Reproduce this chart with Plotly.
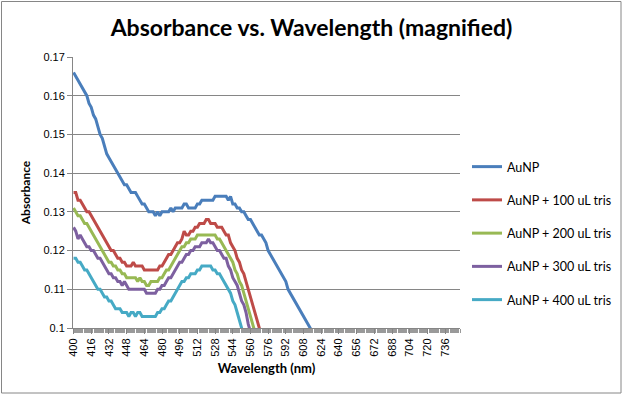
import plotly.graph_objects as go

# Wavelength grid (nm), 2 nm steps
wavelengths = list(range(400, 620, 2))

aunp = [0.166, 0.165, 0.164, 0.163, 0.162, 0.161, 0.160, 0.158, 0.157, 0.155,
        0.154, 0.152, 0.150, 0.149, 0.147, 0.145, 0.144, 0.143, 0.142, 0.141,
        0.140, 0.139, 0.138, 0.137, 0.137, 0.136, 0.135, 0.135, 0.135, 0.134,
        0.133, 0.132, 0.132, 0.131, 0.130, 0.130, 0.130, 0.129, 0.130, 0.129,
        0.130, 0.130, 0.130, 0.130, 0.131, 0.130, 0.131, 0.131, 0.131, 0.131,
        0.132, 0.132, 0.131, 0.131, 0.131, 0.131, 0.132, 0.132, 0.133, 0.133,
        0.133, 0.133, 0.133, 0.133, 0.134, 0.134, 0.134, 0.134, 0.134, 0.134,
        0.133, 0.134, 0.132, 0.132, 0.131, 0.131, 0.130, 0.130, 0.129, 0.128,
        0.128, 0.127, 0.126, 0.125, 0.124, 0.124, 0.123, 0.122, 0.120, 0.119,
        0.118, 0.117, 0.116, 0.115, 0.114, 0.113, 0.112, 0.110, 0.109, 0.108,
        0.107, 0.106, 0.105, 0.104, 0.103, 0.102, 0.101, 0.100, 0.099, 0.098]

tris100 = [0.135, 0.135, 0.133, 0.133, 0.132, 0.131, 0.130, 0.130, 0.129, 0.128,
           0.127, 0.126, 0.125, 0.124, 0.123, 0.122, 0.121, 0.120, 0.120, 0.119,
           0.118, 0.118, 0.117, 0.117, 0.116, 0.116, 0.116, 0.117, 0.116, 0.116,
           0.116, 0.116, 0.115, 0.115, 0.115, 0.115, 0.115, 0.115, 0.115, 0.116,
           0.116, 0.117, 0.118, 0.119, 0.119, 0.120, 0.121, 0.122, 0.122, 0.123,
           0.125, 0.124, 0.124, 0.125, 0.125, 0.126, 0.126, 0.127, 0.127, 0.127,
           0.128, 0.128, 0.127, 0.127, 0.127, 0.126, 0.126, 0.126, 0.125, 0.124,
           0.124, 0.122, 0.121, 0.120, 0.118, 0.117, 0.115, 0.114, 0.112, 0.110,
           0.108, 0.106, 0.104, 0.102, 0.100, 0.098]

tris200 = [0.131, 0.130, 0.129, 0.129, 0.128, 0.127, 0.127, 0.126, 0.125, 0.124,
           0.123, 0.122, 0.121, 0.120, 0.119, 0.118, 0.117, 0.117, 0.116, 0.116,
           0.115, 0.115, 0.114, 0.114, 0.113, 0.113, 0.113, 0.113, 0.113, 0.112,
           0.113, 0.112, 0.112, 0.111, 0.111, 0.112, 0.112, 0.112, 0.112, 0.113,
           0.113, 0.114, 0.115, 0.115, 0.116, 0.117, 0.118, 0.119, 0.120, 0.121,
           0.121, 0.122, 0.122, 0.123, 0.123, 0.123, 0.124, 0.124, 0.124, 0.124,
           0.124, 0.124, 0.124, 0.124, 0.124, 0.123, 0.123, 0.122, 0.121, 0.120,
           0.119, 0.118, 0.117, 0.115, 0.114, 0.112, 0.111, 0.109, 0.107, 0.105,
           0.103, 0.101, 0.099]

tris300 = [0.126, 0.125, 0.123, 0.124, 0.123, 0.122, 0.121, 0.121, 0.120, 0.120,
           0.119, 0.118, 0.118, 0.117, 0.116, 0.115, 0.114, 0.114, 0.113, 0.113,
           0.112, 0.112, 0.111, 0.112, 0.111, 0.110, 0.110, 0.110, 0.110, 0.110,
           0.110, 0.110, 0.110, 0.109, 0.109, 0.109, 0.109, 0.109, 0.110, 0.110,
           0.111, 0.111, 0.112, 0.113, 0.113, 0.114, 0.115, 0.116, 0.117, 0.117,
           0.118, 0.119, 0.119, 0.120, 0.120, 0.121, 0.121, 0.121, 0.122, 0.122,
           0.122, 0.123, 0.122, 0.122, 0.121, 0.120, 0.120, 0.119, 0.118, 0.118,
           0.116, 0.115, 0.113, 0.112, 0.111, 0.109, 0.107, 0.106, 0.104, 0.101,
           0.099]

tris400 = [0.118, 0.118, 0.117, 0.117, 0.116, 0.115, 0.115, 0.114, 0.113, 0.112,
           0.111, 0.110, 0.110, 0.109, 0.108, 0.108, 0.107, 0.107, 0.106, 0.105,
           0.105, 0.105, 0.104, 0.104, 0.104, 0.103, 0.104, 0.104, 0.103, 0.104,
           0.104, 0.103, 0.103, 0.103, 0.103, 0.103, 0.103, 0.103, 0.104, 0.104,
           0.105, 0.105, 0.106, 0.107, 0.107, 0.108, 0.109, 0.110, 0.111, 0.112,
           0.112, 0.113, 0.113, 0.114, 0.114, 0.114, 0.115, 0.115, 0.116, 0.116,
           0.116, 0.116, 0.116, 0.115, 0.115, 0.114, 0.114, 0.113, 0.112, 0.111,
           0.110, 0.109, 0.107, 0.106, 0.104, 0.102, 0.100, 0.098]

series_names = ["AuNP", "AuNP + 100 uL tris", "AuNP + 200 uL tris",
                "AuNP + 300 uL tris", "AuNP + 400 uL tris"]
series_values = [aunp, tris100, tris200, tris300, tris400]
colors = ["#4A7EBB", "#BE4B48", "#98B954", "#7D60A0", "#46AAC5"]

x_tick_vals = list(range(400, 737, 16))
y_tick_vals = [0.10, 0.11, 0.12, 0.13, 0.14, 0.15, 0.16, 0.17]
y_tick_text = ["0.1", "0.11", "0.12", "0.13", "0.14", "0.15", "0.16", "0.17"]

W, H = 623, 396
ML, MR, MT, MB = 73, 163, 57, 68
PW, PH = W - ML - MR, H - MT - MB

fig = go.Figure()
for i, (name, vals, col) in enumerate(zip(series_names, series_values, colors)):
    fig.add_trace(go.Scatter(
        x=wavelengths[:len(vals)], y=vals, mode="lines", name=name,
        legendgroup="g%d" % i,
        line=dict(color=col, width=3, shape="linear"),
        cliponaxis=True,
    ))

tick_font = dict(family="Liberation Sans Narrow, Liberation Sans, Arial", size=11, color="#000000")

fig.update_layout(
    width=W, height=H,
    margin=dict(l=ML, r=MR, t=MT, b=MB, pad=0, autoexpand=False),
    paper_bgcolor="white", plot_bgcolor="white",
    title=dict(text="<b>Absorbance vs. Wavelength (magnified)</b>",
               font=dict(family="Lato, Open Sans, sans-serif", size=23, color="#000000"),
               x=0.5, xanchor="center", y=1 - 28 / H, yanchor="middle"),
    showlegend=True,
    legend=dict(x=(467 - ML) / PW, xanchor="left", y=(MT + PH - 152) / PH, yanchor="top",
                font=dict(family="Lato, Open Sans, sans-serif", size=12.5, color="#000000"),
                tracegroupgap=14, bgcolor="rgba(0,0,0,0)"),
    xaxis=dict(
        range=[399.5, 749.5], tickmode="array", tickvals=x_tick_vals,
        ticktext=[str(v) for v in x_tick_vals], tickangle=-90, automargin=False,
        tickfont=tick_font, ticks="outside", ticklen=5, tickcolor="#868686",
        showline=True, linecolor="#868686", linewidth=1, showgrid=False,
        zeroline=False, mirror=False,
        minor=dict(dtick=1, tick0=399.5, ticks="outside", ticklen=4, tickcolor="#9a9a9a", showgrid=False),
        title=dict(text="<b>Wavelength (nm)</b>", standoff=8,
                   font=dict(family="Lato, Open Sans, sans-serif", size=13, color="#000000")),
    ),
    yaxis=dict(
        range=[0.1, 0.17], tickmode="array", tickvals=y_tick_vals, ticktext=y_tick_text,
        automargin=False,
        tickfont=tick_font, ticks="outside", ticklen=5, tickcolor="#868686",
        showline=True, linecolor="#868686", linewidth=1,
        showgrid=True, gridcolor="#868686", gridwidth=1, zeroline=False,
        title=dict(text="<b>Absorbance</b>", standoff=10,
                   font=dict(family="Lato, Open Sans, sans-serif", size=12, color="#000000")),
    ),
    shapes=[dict(type="rect", xref="paper", yref="paper",
                 x0=(1.5 - ML) / PW, x1=(621 - ML) / PW,
                 y0=(MT + PH - 393) / PH, y1=(MT + PH - 1.5) / PH,
                 line=dict(color="#868686", width=1), fillcolor="rgba(0,0,0,0)", layer="below")],
)

fig.write_html("out.html", config={"displayModeBar": False},
               post_script="document.body.style.margin='0';document.body.style.overflow='hidden';")
